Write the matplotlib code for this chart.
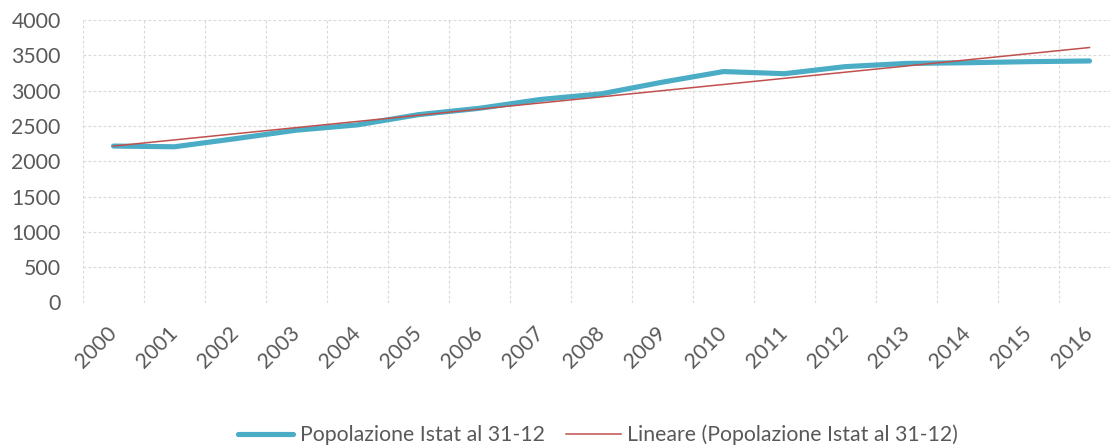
import numpy as np
import matplotlib
matplotlib.use("Agg")
import matplotlib.pyplot as plt

# dati
anni = ['2000', '2001', '2002', '2003', '2004', '2005', '2006', '2007', '2008',
        '2009', '2010', '2011', '2012', '2013', '2014', '2015', '2016']
popolazione = [2215, 2205, 2320, 2440, 2515, 2660, 2750, 2875, 2955,
               3120, 3270, 3240, 3340, 3385, 3395, 3410, 3420]
yticks = [0, 500, 1000, 1500, 2000, 2500, 3000, 3500, 4000]

plt.rcParams['font.family'] = ['Lato', 'DejaVu Sans']
grigio = '#595959'
blu = '#4BACC6'
rosso = '#C0504D'
fs = 15.3

W, H = 1110, 447
fig = plt.figure(figsize=(W / 100, H / 100), dpi=100)
ax = fig.add_axes([83 / W, 1 - 302.5 / H, (1120 - 83) / W, (302.5 - 20) / H])

x = np.arange(len(anni))
ax.plot(x, popolazione, color=blu, lw=3.7, solid_capstyle='round',
        solid_joinstyle='round', label='Popolazione Istat al 31-12', zorder=3)

# linea di tendenza lineare
coef = np.polyfit(x, popolazione, 1)
ax.plot(x, np.polyval(coef, x), color=rosso, lw=1.1,
        label='Lineare (Popolazione Istat al 31-12)', zorder=4)

ax.set_xlim(-0.5, len(anni) - 0.5)
ax.set_ylim(0, 4000)
ax.set_yticks(yticks)
ax.set_yticklabels([str(v) for v in yticks])
ax.set_xticks(x)
ax.set_xticklabels(anni, rotation=45, ha='right', va='center', rotation_mode='anchor')

# griglia tratteggiata ai confini delle categorie
ax.set_xticks(np.arange(-0.5, len(anni) + 0.5, 1), minor=True)
ax.grid(True, which='minor', axis='x', color='#D9D9D9', ls=(0, (2.5, 2)), lw=0.8)
ax.grid(True, which='major', axis='y', color='#D9D9D9', ls=(0, (2.5, 2)), lw=0.8)
ax.tick_params(axis='x', which='both', length=0, pad=20, labelsize=fs, colors=grigio)
ax.tick_params(axis='y', length=0, pad=16, labelsize=fs, colors=grigio)
for s in ax.spines.values():
    s.set_visible(False)

fig.legend(loc='center', bbox_to_anchor=(598 / W, 1 - 435 / H), ncol=2,
           frameon=False, fontsize=fs, handlelength=2.6, handletextpad=0.3,
           columnspacing=1.0, labelcolor=grigio)

fig.savefig('out.png', dpi=100)
